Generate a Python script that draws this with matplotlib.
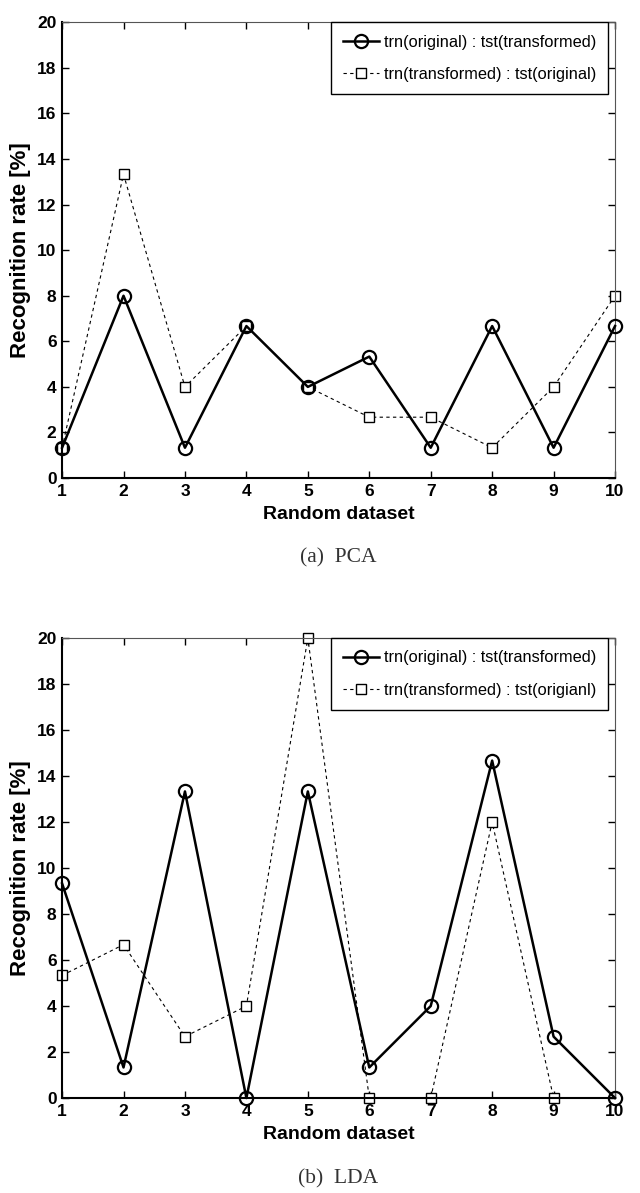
import numpy as np
import matplotlib.pyplot as plt

datasets = np.arange(1, 11)

pca_orig = [1.33, 8.0, 1.33, 6.67, 4.0, 5.33, 1.33, 6.67, 1.33, 6.67]
pca_trans = [1.33, 13.33, 4.0, 6.67, 4.0, 2.67, 2.67, 1.33, 4.0, 8.0]

lda_orig = [9.33, 1.33, 13.33, 0.0, 13.33, 1.33, 4.0, 14.67, 2.67, 0.0]
lda_trans = [5.33, 6.67, 2.67, 4.0, 20.0, 0.0, 0.0, 12.0, 0.0, np.nan]

labels_pca = ['trn(original) : tst(transformed)', 'trn(transformed) : tst(original)']
labels_lda = ['trn(original) : tst(transformed)', 'trn(transformed) : tst(origianl)']
captions = ['(a)  PCA', '(b)  LDA']

plt.rcParams['font.family'] = ['Liberation Sans', 'DejaVu Sans']

fig = plt.figure(figsize=(6.4, 11.93), dpi=100)
ax1 = fig.add_axes([0.097, 0.5993, 0.864, 0.382])
ax2 = fig.add_axes([0.097, 0.0796, 0.864, 0.3856])


def draw(ax, y1, y2, labels, caption):
    ax.plot(datasets, y2, color='black', linestyle=(0, (3, 3)), linewidth=0.8,
            marker='s', markersize=7.5, markerfacecolor='white',
            markeredgewidth=1.0, label=labels[1], zorder=2, clip_on=False)
    ax.plot(datasets, y1, color='black', linestyle='-', linewidth=1.8,
            marker='o', markersize=9.5, markerfacecolor='none',
            markeredgewidth=1.6, label=labels[0], zorder=3, clip_on=False)
    ax.set_xlim(1, 10)
    ax.set_ylim(0, 20)
    ax.set_xticks(datasets)
    ax.set_yticks(np.arange(0, 21, 2))
    ax.tick_params(direction='in', top=True, right=True, length=5,
                   labelsize=12.5, pad=4, width=1)
    for lab in ax.get_xticklabels() + ax.get_yticklabels():
        lab.set_fontweight('bold')
    for s in ['left', 'bottom']:
        ax.spines[s].set_linewidth(1.5)
    for s in ['top', 'right']:
        ax.spines[s].set_linewidth(0.8)
        ax.spines[s].set_color('#555555')
    ax.set_xlabel('Random dataset', fontsize=14, fontweight='bold', labelpad=5)
    ax.set_ylabel('Recognition rate [%]', fontsize=16, fontweight='bold', labelpad=4)
    h, l = ax.get_legend_handles_labels()
    leg = ax.legend(h[::-1], l[::-1], loc='upper right', fontsize=11.8,
                    bbox_to_anchor=(0.988, 1.0), borderaxespad=0,
                    fancybox=False, edgecolor='black', framealpha=1,
                    handlelength=2.2, handletextpad=0.3, borderpad=0.75,
                    labelspacing=1.05)
    leg.get_frame().set_linewidth(1.0)
    ax.text(0.5, -0.175, caption, transform=ax.transAxes, ha='center', va='center',
            fontsize=15.5, family=['Liberation Serif', 'DejaVu Serif'], color='#333333')


draw(ax1, pca_orig, pca_trans, labels_pca, captions[0])
draw(ax2, lda_orig, lda_trans, labels_lda, captions[1])

fig.savefig('out.png', dpi=100)
